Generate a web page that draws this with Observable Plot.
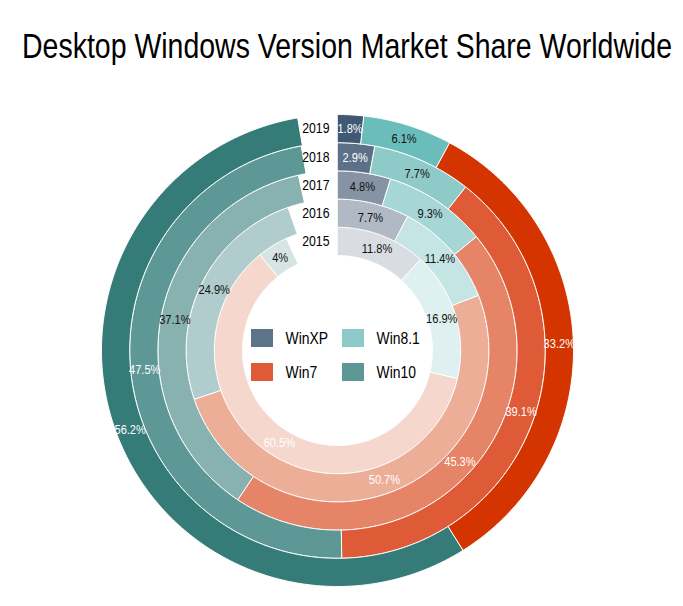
<!DOCTYPE html>
<html><head><meta charset="utf-8">
<script src="https://cdn.jsdelivr.net/npm/d3@7"></script>
<script src="https://cdn.jsdelivr.net/npm/@observablehq/plot@0.6"></script>
<style>
body{margin:0;background:#fff;}
#head{position:relative;height:80px;}
#title{position:absolute;left:22px;top:28px;font-family:"Liberation Sans",Arial,sans-serif;font-size:35px;line-height:35px;color:#000;white-space:nowrap;transform-origin:0 0;}
#chart svg{display:block;}
</style></head><body>
<div id="head"><span id="title">Desktop Windows Version Market Share Worldwide</span></div>
<div id="chart"></div>
<script>
// ---- data ----
const years = ["2015", "2016", "2017", "2018", "2019"];
const versions = ["WinXP", "Win8.1", "Win7", "Win10"];
const winXP = [11.8, 7.7, 4.8, 2.9, 1.8];
const win81 = [16.9, 11.4, 9.3, 7.7, 6.1];
const win7  = [60.5, 50.7, 45.3, 39.1, 33.2];
const win10 = [4, 24.9, 37.1, 47.5, 56.2];
const seriesValues = [winXP, win81, win7, win10];

// ---- styles ----
const colXP  = ["#d9dde3", "#b0b9c4", "#8593a4", "#5c7087", "#3f5873"];
const col81  = ["#dff0f0", "#c4e5e4", "#a6d7d6", "#8ecac8", "#6bbdbb"];
const col7   = ["#f5d7cd", "#edae98", "#e68467", "#df5b37", "#d43500"];
const col10  = ["#d6e5e4", "#b1cccc", "#87b2b0", "#5e9896", "#357c79"];
const seriesColors = [colXP, col81, col7, col10];
const inkXP = ["#111", "#111", "#111", "#fff", "#fff"];
const ink81 = ["#111", "#111", "#111", "#111", "#111"];
const ink7  = ["#fff", "#fff", "#fff", "#fff", "#fff"];
const ink10 = ["#111", "#111", "#111", "#fff", "#fff"];
const seriesInk = [inkXP, ink81, ink7, ink10];
const legendColors = ["#5d7389", "#8ccac8", "#df5b37", "#5e9896"];
const NARROW = 0.82;

// ---- layout ----
const W = 683, H = 526, CX = 337, CY = 270;
const R_IN = 95, RING = 28.2;
const sans = "Liberation Sans, Arial, sans-serif";

const polys = [], labels = [], yearLabels = [];
years.forEach((yr, i) => {
  const r0 = R_IN + i * RING, r1 = r0 + RING;
  let cum = 0;
  versions.forEach((v, s) => {
    const val = seriesValues[s][i];
    const a0 = cum / 100 * 2 * Math.PI, a1 = (cum + val) / 100 * 2 * Math.PI;
    cum += val;
    const key = v + "-" + yr, color = seriesColors[s][i];
    const n = Math.max(2, Math.ceil((a1 - a0) / (Math.PI / 360)));
    for (let k = 0; k <= n; k++) {
      const a = a0 + (a1 - a0) * k / n;
      polys.push({key, color, x: r1 * Math.sin(a), y: r1 * Math.cos(a)});
    }
    for (let k = n; k >= 0; k--) {
      const a = a0 + (a1 - a0) * k / n;
      polys.push({key, color, x: r0 * Math.sin(a), y: r0 * Math.cos(a)});
    }
    const am = (a0 + a1) / 2, rm = (r0 + r1) / 2;
    labels.push({x: rm * Math.sin(am), y: rm * Math.cos(am), text: val + "%", ink: seriesInk[s][i]});
  });
  yearLabels.push({x: 0, y: (r0 + r1) / 2, text: yr});
});

const legendItems = versions.map((v, s) => ({
  name: v, color: legendColors[s], col: s % 2, row: Math.floor(s / 2)
}));
const LX = -86, LY = 21, COLW = 91, ROWH = 34, SW = 22, SH = 18;

const chart = Plot.plot({
  width: W, height: H, margin: 0,
  x: {domain: [-CX, W - CX], axis: null},
  y: {domain: [-(H - CY), CY], axis: null},
  color: {type: "identity"},
  marks: [
    Plot.line(polys, {x: "x", y: "y", z: "key", fill: "color", stroke: "#fff", strokeWidth: 1, curve: "linear-closed"}),
    Plot.text(labels, {x: "x", y: "y", text: "text", fill: "ink", fontSize: 13.5, fontFamily: sans}),
    Plot.text(yearLabels, {x: "x", y: "y", text: "text", dx: -8, textAnchor: "end", fontSize: 15, fontFamily: sans, fill: "#000"}),
    Plot.rect(legendItems, {
      x1: d => LX + d.col * COLW, x2: d => LX + d.col * COLW + SW,
      y1: d => LY - d.row * ROWH, y2: d => LY - d.row * ROWH - SH,
      fill: "color"
    }),
    Plot.text(legendItems, {
      x: d => LX + d.col * COLW + SW + 12, y: d => LY - d.row * ROWH - SH / 2,
      text: "name", textAnchor: "start", fontSize: 17, fontFamily: sans, fill: "#000"
    })
  ]
});
document.getElementById("chart").appendChild(chart);

// narrow (condensed) rendering of all chart texts, like Arial Narrow
chart.querySelectorAll("text").forEach(t => {
  const tr = t.getAttribute("transform");
  if (tr && /translate/.test(tr)) {
    t.setAttribute("transform", tr + ` scale(${NARROW},1)`);
  } else {
    const x = +(t.getAttribute("x") || 0), y = +(t.getAttribute("y") || 0);
    t.removeAttribute("x"); t.removeAttribute("y");
    t.setAttribute("transform", (tr ? tr + " " : "") + `translate(${x},${y}) scale(${NARROW},1)`);
  }
});

// title: condensed to span the same width as the reference
const title = document.getElementById("title");
const tw = title.getBoundingClientRect().width;
title.style.transform = `scaleX(${650 / tw})`;
</script>
</body></html>
